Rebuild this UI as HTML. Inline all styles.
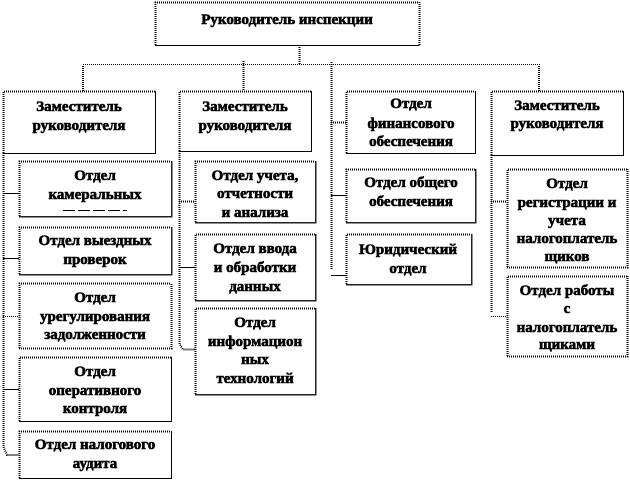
<!DOCTYPE html>
<html><head><meta charset="utf-8"><style>
html,body{margin:0;padding:0;background:#fff;width:630px;height:481px;overflow:hidden}
svg{display:block}
text{font-family:"Liberation Serif","Noto Serif CJK SC",serif;font-weight:bold;font-size:15px;fill:#000;stroke:#000;stroke-width:.6;text-anchor:middle}
path{shape-rendering:crispEdges}
.d{fill:none;stroke:#000;stroke-width:1;stroke-dasharray:1 1}
.t{fill:none;stroke:#000;stroke-width:2;stroke-dasharray:1 1}
.s{fill:none;stroke:#000;stroke-width:1}
.g{fill:none;stroke:#222;stroke-width:1.5}
</style></head><body>
<svg width="630" height="481" viewBox="0 0 630 481" xmlns="http://www.w3.org/2000/svg">
<!-- connectors -->
<path class="t" d="M299.5 45V64"/>
<path class="d" d="M83.5 91V64.5H539.5V91"/>
<path class="t" d="M83 91V65M539 91V65"/>
<path class="t" d="M243.5 61V91"/>
<path class="t" d="M331.5 62V270"/>
<path class="t" d="M3.5 153V447L7 455H19"/>
<path class="s" d="M3 193.5H19M3 258.5H19M3 389.5H19"/>
<path class="d" d="M3 316.5H19"/>
<path class="t" d="M179.5 151V344L183 349.5H195"/>
<path class="t" d="M179 201.5H195"/>
<path class="s" d="M179 267.5H195M331 275.5H346M331 195.5H346"/>
<path class="t" d="M331 122.5H346"/>
<path class="t" d="M491.5 155V312"/>
<path class="t" d="M491 201.5H507"/><path class="d" d="M491 316.5H507"/>

<!-- boxes: dotted top/left, solid bottom/right -->
<g id="boxes">
<path class="t" d="M155.5 45V2.5H419"/><path class="s" d="M155 45.5H419.5"/><path class="t" d="M419.5 45V2"/>
<path class="t" d="M3.5 153V91.5H155"/><path class="s" d="M3 153.5H155.5V91"/>
<path class="t" d="M179.5 151V91.5H311"/><path class="s" d="M179 151.5H311.5V91"/>
<path class="t" d="M346.5 153V91.5H475"/><path class="s" d="M346 153.5H475.5V91"/>
<path class="t" d="M491.5 155V91.5H623"/><path class="s" d="M491 155.5H623.5V91"/>

<path class="t" d="M19.5 216V161.5H171"/><path class="g" d="M19 216.5H171.5V161"/>
<path class="t" d="M19.5 274V227.5H171"/><path class="g" d="M19 274.5H171.5V227"/>
<path class="t" d="M19.5 348V283.5H171"/><path class="t" d="M19 348.5H171.5V283"/>
<path class="t" d="M19.5 421V357.5H171"/><path class="s" d="M19 421.5H171.5V357"/>
<path class="t" d="M19.5 478V431.5H171"/><path class="s" d="M19 478.5H171.5V431"/>

<path class="t" d="M195.5 222V161.5H315"/><path class="g" d="M195 222.5H315.5V161"/>
<path class="t" d="M195.5 300V234.5H315"/><path class="g" d="M195 300.5H315.5V234"/>
<path class="t" d="M195.5 394V308.5H315"/><path class="g" d="M195 394.5H315.5V308"/>

<path class="t" d="M346.5 222V169.5H475"/><path class="g" d="M346 222.5H475.5V169"/>
<path class="t" d="M346.5 284V234.5H471"/><path class="g" d="M346 284.5H471.5V234"/>

<path class="t" d="M507.5 267V169.5H627"/><path class="t" d="M507 267.5H627.5V169"/>
<path class="t" d="M507.5 356V276.5H627"/><path class="t" d="M507 356.5H627.5V276"/>
</g>
<path d="M63 210.5H127" fill="none" stroke="#000" stroke-width="1" stroke-dasharray="12 3"/>

<!-- labels -->
<text x="287" y="24">Руководитель инспекции</text>
<text x="79" y="111">Заместитель</text>
<text x="79" y="130">руководителя</text>
<text x="95" y="180">Отдел</text>
<text x="95" y="199">камеральных</text>
<text x="95" y="245">Отдел выездных</text>
<text x="95" y="264">проверок</text>
<text x="95" y="302">Отдел</text>
<text x="95" y="321">урегулирования</text>
<text x="95" y="339">задолженности</text>
<text x="95" y="376">Отдел</text>
<text x="95" y="395">оперативного</text>
<text x="95" y="413">контроля</text>
<text x="95" y="449">Отдел налогового</text>
<text x="95" y="468">аудита</text>

<text x="245" y="111">Заместитель</text>
<text x="245" y="130">руководителя</text>
<text x="255" y="180">Отдел учета,</text>
<text x="255" y="198">отчетности</text>
<text x="255" y="217">и анализа</text>
<text x="255" y="253">Отдел ввода</text>
<text x="255" y="272">и обработки</text>
<text x="255" y="291">данных</text>
<text x="255" y="327">Отдел</text>
<text x="255" y="346">информацион</text>
<text x="255" y="364">ных</text>
<text x="255" y="383">технологий</text>

<text x="411" y="108">Отдел</text>
<text x="411" y="128">финансового</text>
<text x="411" y="146">обеспечения</text>
<text x="411" y="187">Отдел общего</text>
<text x="411" y="206">обеспечения</text>
<text x="408" y="254">Юридический</text>
<text x="408" y="273">отдел</text>

<text x="557" y="110">Заместитель</text>
<text x="557" y="128">руководителя</text>
<text x="567" y="188">Отдел</text>
<text x="567" y="207">регистрации и</text>
<text x="567" y="225">учета</text>
<text x="567" y="243">налогоплатель</text>
<text x="567" y="261">щиков</text>
<text x="567" y="295">Отдел работы</text>
<text x="567" y="313">с</text>
<text x="567" y="332">налогоплатель</text>
<text x="567" y="349">щиками</text>
</svg>
</body></html>
